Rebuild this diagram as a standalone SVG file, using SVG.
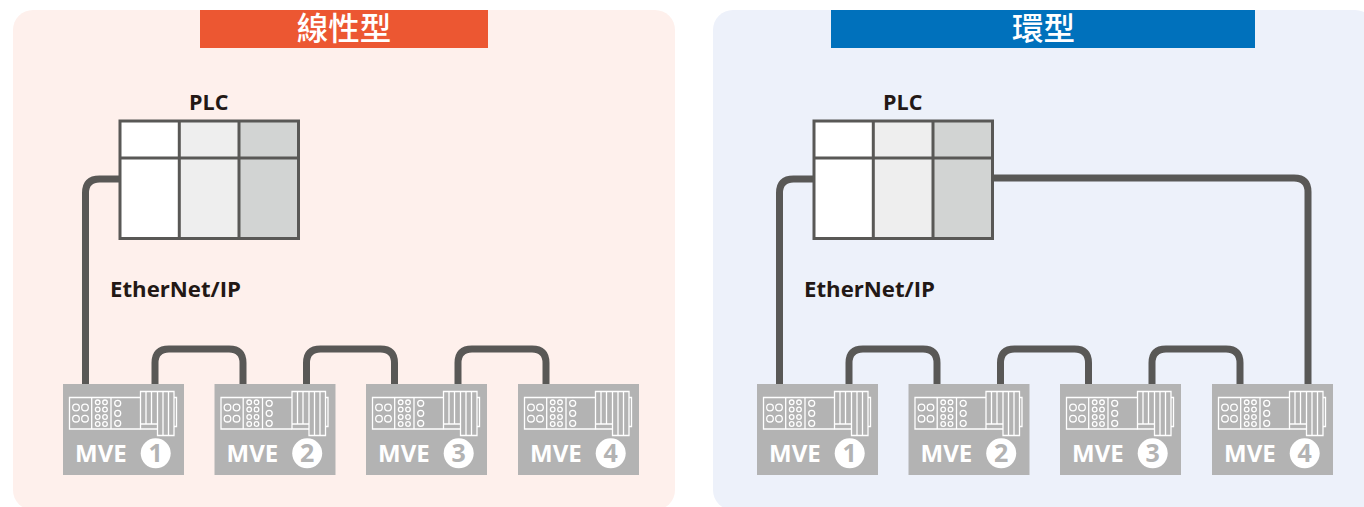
<svg xmlns="http://www.w3.org/2000/svg" width="1364" height="507" viewBox="0 0 1364 507">
<style>
.title{font:500 31.5px "Noto Sans CJK TC","Noto Sans",sans-serif;fill:#fff;text-anchor:middle}
.lbl{font:700 22.2px "Open Sans",sans-serif;fill:#231815}
.plcl{font:700 21.5px "Open Sans",sans-serif;fill:#231815}
.mve{font:700 24px "Open Sans",sans-serif;fill:#fff}
.num{font:700 25px "Open Sans",sans-serif;fill:#b3b3b3;text-anchor:middle}
.ln{fill:none;stroke:#fff;stroke-width:1.300}
.wire{fill:none;stroke:#595856;stroke-width:7}
.plc{stroke:#595856;stroke-width:3}
</style>
<defs>
<g id="plc">
<rect x="0" y="0" width="59.300" height="117.500" fill="#fff"/>
<rect x="59.300" y="0" width="59.700" height="117.500" fill="#eeeeee"/>
<rect x="119" y="0" width="59.500" height="117.500" fill="#d2d4d3"/>
<rect x="0" y="0" width="178.500" height="117.500" fill="none" class="plc"/>
<path d="M59.300 0V117.500M119 0V117.500M0 37H178.500" fill="none" class="plc"/>
</g>
<g id="body">
<rect width="121" height="91" fill="#b3b3b3"/>
<path class="ln" d="M77.500 13.500H6.500V45H77.500M28.700 13.500V45M48 13.500V45"/>
<g class="ln">
<circle cx="13" cy="23.500" r="3.300"/><circle cx="22" cy="23.500" r="3.300"/><circle cx="13" cy="34.700" r="3.300"/><circle cx="22" cy="34.700" r="3.300"/>
<circle cx="34.700" cy="18.300" r="2.300"/><circle cx="42" cy="18.300" r="2.300"/><circle cx="34.700" cy="25.500" r="2.300"/><circle cx="42" cy="25.500" r="2.300"/><circle cx="34.700" cy="33" r="2.300"/><circle cx="42" cy="33" r="2.300"/><circle cx="34.700" cy="40" r="2.300"/><circle cx="42" cy="40" r="2.300"/>
<circle cx="54.700" cy="19.300" r="3"/><circle cx="54.700" cy="29.300" r="3"/><circle cx="54.700" cy="39.300" r="3"/>
<path d="M77.500 40V7.500H111V51.500H94.500V40ZM83 7.500V40M88.500 7.500V40M94.500 7.500V40M100 7.500V51.500M105.500 7.500V51.500M111 13.500H113.500V42.500H111M77.500 40V45H94.500"/>
</g>
<circle cx="92.700" cy="69.300" r="15" fill="#fff"/>
</g>
</defs>
<g id="panel-linear">
<rect x="13" y="10" width="662" height="500" rx="20" fill="#fef0ec"/>
<rect x="200" y="10" width="288" height="38" fill="#ec5732"/>
<text class="title" x="344" y="40">線性型</text>
</g>
<g id="panel-ring">
<rect x="713" y="10" width="662" height="500" rx="20" fill="#edf1fa"/>
<rect x="831" y="10" width="424" height="38" fill="#0071bc"/>
<text class="title" x="1043.500" y="40">環型</text>
</g>
<g id="connectors">
<path class="wire" d="M85.500 384V193Q85.500 179 99.500 179H120"/>
<path class="wire" d="M155 384V363Q155 349 169 349H229Q243 349 243 363V384"/>
<path class="wire" d="M306.500 384V363Q306.500 349 320.500 349H380.500Q394.500 349 394.500 363V384"/>
<path class="wire" d="M458 384V363Q458 349 472 349H532Q546 349 546 363V384"/>
<path class="wire" d="M779.500 384V193Q779.500 179 793.500 179H814"/>
<path class="wire" d="M849 384V363Q849 349 863 349H923Q937 349 937 363V384"/>
<path class="wire" d="M1000.500 384V363Q1000.500 349 1014.500 349H1074.500Q1088.500 349 1088.500 363V384"/>
<path class="wire" d="M1152 384V363Q1152 349 1166 349H1226Q1240 349 1240 363V384"/>
<path class="wire" d="M993 178H1294Q1308 178 1308 192V384"/>
</g>
<g id="plc-linear"><use href="#plc" x="120" y="121"/><text class="plcl" x="189" y="109.500">PLC</text></g>
<g id="plc-ring"><use href="#plc" x="814" y="121"/><text class="plcl" x="883" y="109.500">PLC</text></g>
<g id="label-linear"><text class="lbl" x="110" y="296.500">EtherNet/IP</text></g>
<g id="label-ring"><text class="lbl" x="804" y="296.500">EtherNet/IP</text></g>
<g id="mve-l1"><use href="#body" x="63" y="384"/><text class="mve" x="75" y="462">MVE</text><text class="num" x="155.700" y="462">1</text></g>
<g id="mve-l2"><use href="#body" x="214.500" y="384"/><text class="mve" x="226.500" y="462">MVE</text><text class="num" x="307.200" y="462">2</text></g>
<g id="mve-l3"><use href="#body" x="366" y="384"/><text class="mve" x="378" y="462">MVE</text><text class="num" x="458.700" y="462">3</text></g>
<g id="mve-l4"><use href="#body" x="518" y="384"/><text class="mve" x="530" y="462">MVE</text><text class="num" x="610.700" y="462">4</text></g>
<g id="mve-r1"><use href="#body" x="757" y="384"/><text class="mve" x="769" y="462">MVE</text><text class="num" x="849.700" y="462">1</text></g>
<g id="mve-r2"><use href="#body" x="908.500" y="384"/><text class="mve" x="920.500" y="462">MVE</text><text class="num" x="1001.200" y="462">2</text></g>
<g id="mve-r3"><use href="#body" x="1060" y="384"/><text class="mve" x="1072" y="462">MVE</text><text class="num" x="1152.700" y="462">3</text></g>
<g id="mve-r4"><use href="#body" x="1212" y="384"/><text class="mve" x="1224" y="462">MVE</text><text class="num" x="1304.700" y="462">4</text></g>
</svg>
